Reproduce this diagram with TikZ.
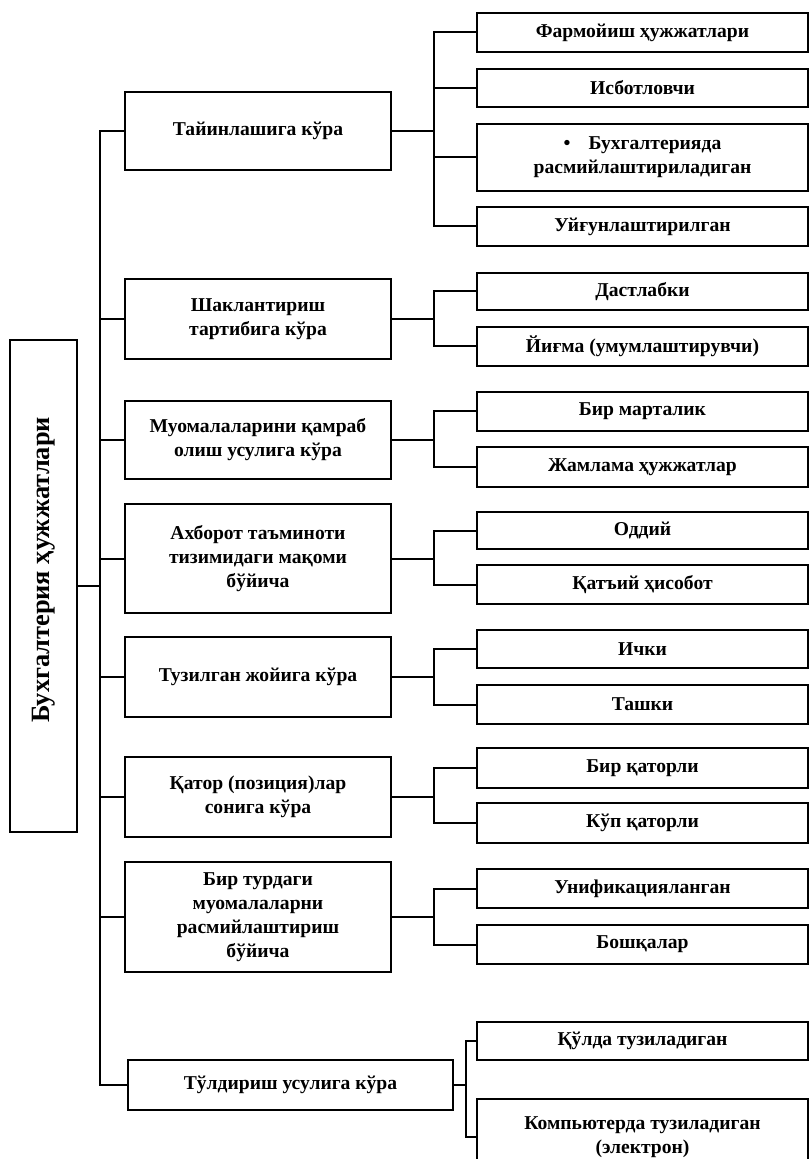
\documentclass[tikz,border=0pt]{standalone}
\usepackage{fontspec}
\setmainfont{Liberation Serif}
\tikzset{
  box_node/.style = {rectangle, draw=black, line width=1pt, align=center,
    inner sep=2pt, font=\fontsize{9.8}{12}\selectfont\bfseries},
  root_node/.style = {box_node, minimum width=33.5pt, minimum height=246pt,
    font=\fontsize{13.2}{15}\selectfont\bfseries},% umumiy tushuncha
  mid_node/.style = {box_node, minimum width=133pt},% belgi
  leaf_node/.style = {box_node, minimum width=165.5pt},% hujjat turi
  link/.style = {line width=1pt}
}

\begin{document}
\begin{tikzpicture}[x=0.5pt, y=-0.5pt]
    \useasboundingbox (0,0) rectangle (809,1159);

    \node [root_node] (root) at (43.5,586) {\rotatebox{90}{\hspace*{16pt}Бухгалтерия ҳужжатлари}};
    \coordinate (bus) at (100,0);

    \node [mid_node, minimum height=39pt] (m1) at (258,131) {Тайинлашига кўра};
    \node [mid_node, minimum height=40pt] (m2) at (258,319) {Шаклантириш\\тартибига кўра};
    \node [mid_node, minimum height=39pt] (m3) at (258,440) {Муомалаларини қамраб\\олиш усулига кўра};
    \node [mid_node, minimum height=54.5pt] (m4) at (258,558.5) {Ахборот таъминоти\\тизимидаги мақоми\\бўйича};
    \node [mid_node, minimum height=40pt] (m5) at (258,677) {Тузилган жойига кўра};
    \node [mid_node, minimum height=40pt] (m6) at (258,797) {Қатор (позиция)лар\\сонига кўра};
    \node [mid_node, minimum height=55pt] (m7) at (258,917) {Бир турдаги\\муомалаларни\\расмийлаштириш\\бўйича};
    \node [mid_node, minimum width=162.5pt, minimum height=25pt] (m8) at (290.5,1085) {Тўлдириш усулига кўра};

    \node [leaf_node, minimum height=19.5pt] (s1a) at (642.5,32.5) {Фармойиш ҳужжатлари};
    \node [leaf_node, minimum height=19pt] (s1b) at (642.5,88) {Исботловчи};
    \node [leaf_node, minimum height=33.5pt] (s1c) at (642.5,157.5) {•\hspace{9pt}Бухгалтерияда\\расмийлаштириладиган};
    \node [leaf_node, minimum height=19.5pt] (s1d) at (642.5,226.5) {Уйғунлаштирилган};

    \node [leaf_node, minimum height=18.5pt] (s2a) at (642.5,291.5) {Дастлабки};
    \node [leaf_node, minimum height=19.5pt] (s2b) at (642.5,346.5) {Йиғма (умумлаштирувчи)};

    \node [leaf_node, minimum height=19.5pt] (s3a) at (642.5,411.5) {Бир марталик};
    \node [leaf_node, minimum height=20pt] (s3b) at (642.5,467) {Жамлама ҳужжатлар};

    \node [leaf_node, minimum height=18.5pt] (s4a) at (642.5,530.5) {Оддий};
    \node [leaf_node, minimum height=19.5pt] (s4b) at (642.5,584.5) {Қатъий ҳисобот};

    \node [leaf_node, minimum height=19pt] (s5a) at (642.5,649) {Ички};
    \node [leaf_node, minimum height=19.5pt] (s5b) at (642.5,704.5) {Ташки};

    \node [leaf_node, minimum height=20pt] (s6a) at (642.5,768) {Бир қаторли};
    \node [leaf_node, minimum height=20pt] (s6b) at (642.5,823) {Кўп қаторли};

    \node [leaf_node, minimum height=19.5pt] (s7a) at (642.5,888.5) {Унификацияланган};
    \node [leaf_node, minimum height=19.5pt] (s7b) at (642.5,944.5) {Бошқалар};

    \node [leaf_node, minimum height=19pt] (s8a) at (642.5,1041) {Қўлда тузиладиган};
    \node [leaf_node, minimum height=38pt] (s8b) at (642.5,1137) {Компьютерда тузиладиган\\(электрон)};

    % chap shina
    \draw [link] (root.east) -- (root.east -| bus);
    \draw [link] (m1.west) -- (m1.west -| bus) -- (m8.west -| bus) -- (m8.west);
    \foreach \m in {m2,m3,m4,m5,m6,m7}
      \draw [link] (\m.west) -- (\m.west -| bus);

    % o'ng tarmoqlar
    \foreach \m/\kids in {m1/{s1a,s1b,s1c,s1d}, m2/{s2a,s2b}, m3/{s3a,s3b},
        m4/{s4a,s4b}, m5/{s5a,s5b}, m6/{s6a,s6b}, m7/{s7a,s7b}}
      \foreach \s in \kids
        \draw [link] (\m.east) -- ++(42,0) |- (\s.west);
    \foreach \s in {s8a,s8b}
      \draw [link] (m8.east) -- ++(12,0) |- (\s.west);
  \end{tikzpicture}
\end{document}
